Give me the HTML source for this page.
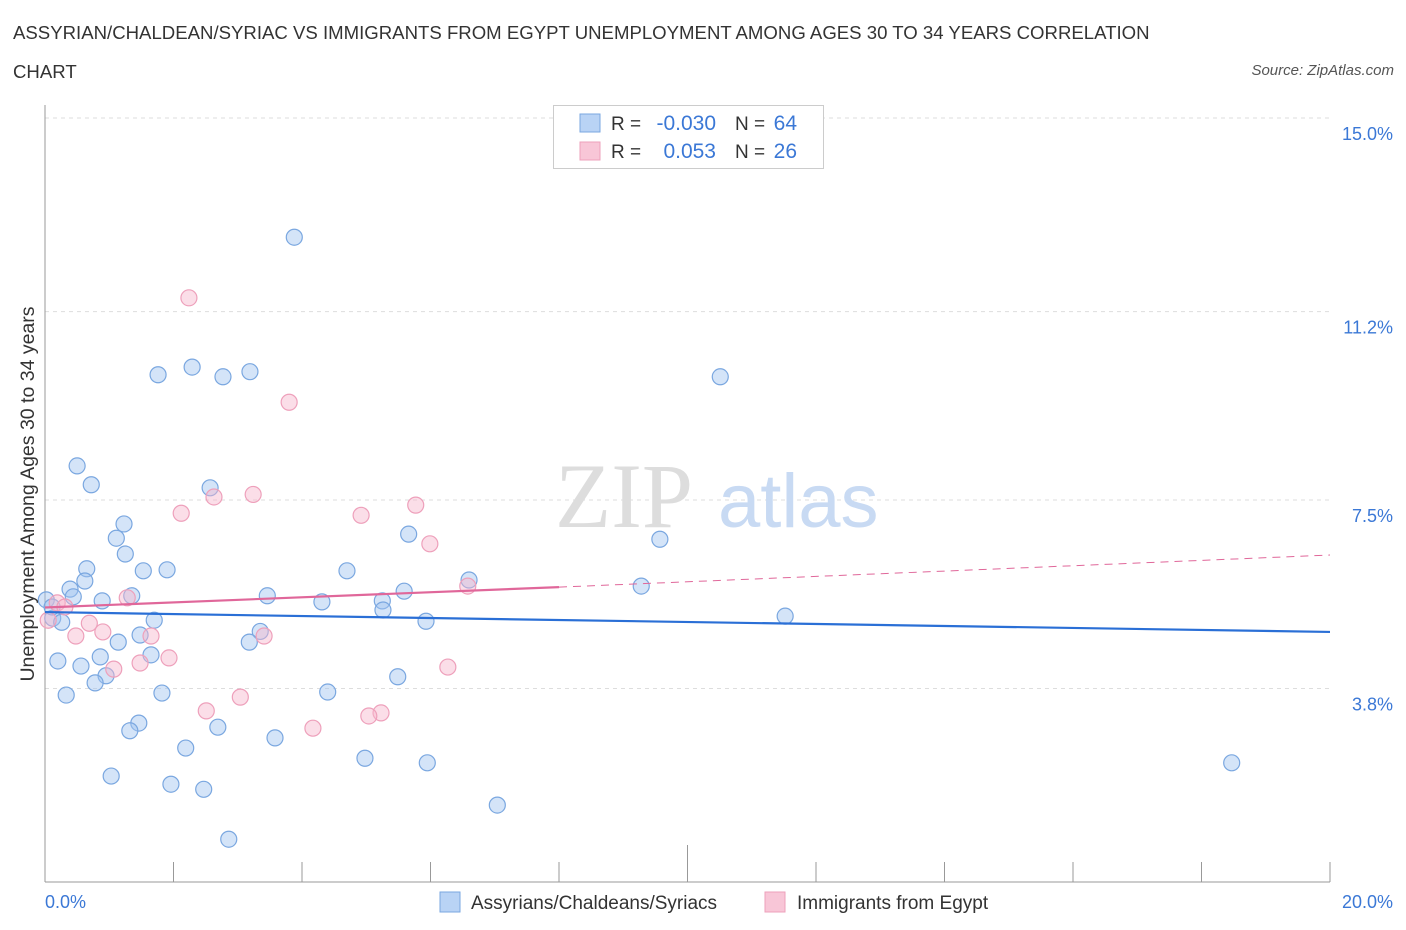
<!DOCTYPE html>
<html><head><meta charset="utf-8"><style>
body{margin:0;background:#fff;font-family:"Liberation Sans",sans-serif;}
#wrap{position:relative;width:1406px;height:930px;overflow:hidden;}
.t{position:absolute;white-space:nowrap;}
</style></head><body>
<div id="wrap">
<div class="t" style="left:13px;top:22px;font-size:18.6px;color:#333;">ASSYRIAN/CHALDEAN/SYRIAC VS IMMIGRANTS FROM EGYPT UNEMPLOYMENT AMONG AGES 30 TO 34 YEARS CORRELATION</div>
<div class="t" style="left:13px;top:61px;font-size:18.6px;color:#333;">CHART</div>
<div class="t" style="right:12px;top:62px;font-size:15px;color:#555;font-style:italic;">Source: ZipAtlas.com</div>
<svg id="svg" width="1406" height="930" style="position:absolute;left:0;top:0"></svg>
</div>
<script>
const blueX=[3.88,2.29,1.76,2.77,3.19,10.51,0.50,0.72,2.57,1.23,1.11,1.25,5.66,9.57,0.65,1.53,1.90,4.70,0.39,0.62,6.60,9.28,5.59,3.46,0.44,0.89,1.35,0.02,4.31,5.25,5.26,0.12,0.26,1.70,5.93,11.52,1.48,3.35,1.14,3.18,1.65,0.86,0.20,0.56,0.95,0.78,5.49,1.82,4.40,0.33,1.46,1.32,2.69,3.58,2.19,4.98,5.95,18.47,1.03,1.96,2.47,7.04,2.86,0.11];
const blueY=[12.66,10.11,9.96,9.92,10.02,9.92,8.17,7.80,7.74,7.03,6.75,6.44,6.83,6.73,6.15,6.11,6.13,6.11,5.75,5.91,5.93,5.81,5.71,5.62,5.60,5.52,5.62,5.54,5.50,5.52,5.34,5.18,5.10,5.14,5.12,5.22,4.85,4.92,4.71,4.71,4.46,4.42,4.34,4.24,4.05,3.91,4.03,3.71,3.73,3.67,3.12,2.97,3.04,2.83,2.63,2.43,2.34,2.34,2.08,1.92,1.82,1.51,0.84,5.40];
const pinkX=[2.24,3.80,3.24,2.63,2.12,4.92,5.77,5.99,0.19,1.28,0.31,0.05,0.69,0.90,0.48,1.65,3.41,1.93,1.07,1.48,6.27,2.51,3.04,5.23,5.04,4.17,6.58];
const pinkY=[11.47,9.42,7.61,7.56,7.24,7.20,7.40,6.64,5.48,5.58,5.40,5.14,5.08,4.91,4.83,4.83,4.83,4.40,4.18,4.30,4.22,3.36,3.63,3.32,3.26,3.02,5.81];
const yTicks=[15.0,11.2,7.5,3.8];
const yTickLabels=["15.0%","11.2%","7.5%","3.8%"];
const blueTrend=[5.30,4.91];
const pinkTrend=[5.39,5.79,6.42];
const X=v=>45+v*64.25, Y=v=>882-v*50.93;
const s=document.getElementById('svg'),NS='http://www.w3.org/2000/svg';
function mk(t,a,p){const e=document.createElementNS(NS,t);for(const k in a)e.setAttribute(k,a[k]);(p||s).appendChild(e);return e;}
yTicks.forEach((v,i)=>{
 const g=mk('line',{x1:45,x2:1330,y1:Y(v),y2:Y(v),stroke:'#ddd','stroke-dasharray':'4,4'});
 
 
 const t=mk('text',{x:1393,y:Y(v)+22,'text-anchor':'end','font-size':18,fill:'#3b78d6','font-family':'Liberation Sans'});
 t.textContent=yTickLabels[i];
 
 
});
const ax=mk('line',{x1:45,x2:45,y1:105,y2:882,stroke:'#999'});
const bx=mk('line',{x1:45,x2:1330,y1:882,y2:882,stroke:'#999'});
for(let i=0;i<=10;i++){const tk=mk('line',{x1:X(i*2),x2:X(i*2),y1:882,y2:i==5?845:862,stroke:'#999'});}
const wm=mk('text',{x:555,y:527,'font-size':92,fill:'#ddd','font-family':'Liberation Serif'});wm.textContent='ZIP';
const wm2=mk('text',{x:718,y:527,'font-size':76,fill:'#c8daf3','font-family':'Liberation Sans'});wm2.textContent='atlas';
blueX.forEach((x,i)=>{const c=mk('circle',{cx:X(x),cy:Y(blueY[i]),r:8,fill:'rgba(160,196,240,0.45)',stroke:'#7aa7e0','stroke-width':1.2});});
pinkX.forEach((x,i)=>{const c=mk('circle',{cx:X(x),cy:Y(pinkY[i]),r:8,fill:'rgba(246,182,204,0.45)',stroke:'#eea0bb','stroke-width':1.2});});
const bl=mk('line',{x1:X(0),x2:X(20),y1:Y(blueTrend[0]),y2:Y(blueTrend[1]),stroke:'#2a6fd6','stroke-width':2.2});
const pl=mk('line',{x1:X(0),x2:X(8),y1:Y(pinkTrend[0]),y2:Y(pinkTrend[1]),stroke:'#e0679a','stroke-width':2.2});
const pd=mk('line',{x1:X(8),x2:X(20),y1:Y(pinkTrend[1]),y2:Y(pinkTrend[2]),stroke:'#e0679a','stroke-width':1,'stroke-dasharray':'8,6'});
function txt(x,y,str,fill,size,anchor,name){const t=mk('text',{x:x,y:y,'font-size':size,fill:fill,'font-family':'Liberation Sans','text-anchor':anchor||'start'});t.textContent=str;return t;}
txt(45,908,'0.0%','#3b78d6',18,'start','x-tick-label-min');
txt(1393,908,'20.0%','#3b78d6',18,'end','x-tick-label-max');
const yl=txt(0,0,'Unemployment Among Ages 30 to 34 years','#333',19.5,'middle','y-axis-title');yl.setAttribute('transform','translate(34,494) rotate(-90)');
const lb=mk('rect',{x:553.5,y:105.5,width:270,height:63,fill:'#fff',stroke:'#ccc'});
const r1=mk('rect',{x:580,y:114,width:20,height:18,fill:'#b9d3f5',stroke:'#7aa7e0'});
const r2=mk('rect',{x:580,y:142,width:20,height:18,fill:'#f8c6d7',stroke:'#eea0bb'});
txt(611,130,'R =','#333',19,'start','r-label-blue');txt(716,130,'-0.030','#3b78d6',21,'end','r-value-blue');
txt(735,130,'N =','#333',19,'start','n-label-blue');txt(797,130,'64','#3b78d6',21,'end','n-value-blue');
txt(611,158,'R =','#333',19,'start','r-label-pink');txt(716,158,'0.053','#3b78d6',21,'end','r-value-pink');
txt(735,158,'N =','#333',19,'start','n-label-pink');txt(797,158,'26','#3b78d6',21,'end','n-value-pink');
const b1=mk('rect',{x:440,y:892,width:20,height:20,fill:'#b9d3f5',stroke:'#7aa7e0'});
txt(471,909,'Assyrians/Chaldeans/Syriacs','#333',19,'start','legend-entry-assyrian');
const b2=mk('rect',{x:765,y:892,width:20,height:20,fill:'#f8c6d7',stroke:'#eea0bb'});
txt(797,909,'Immigrants from Egypt','#333',19,'start','legend-entry-egypt');
</script>
</body></html>
